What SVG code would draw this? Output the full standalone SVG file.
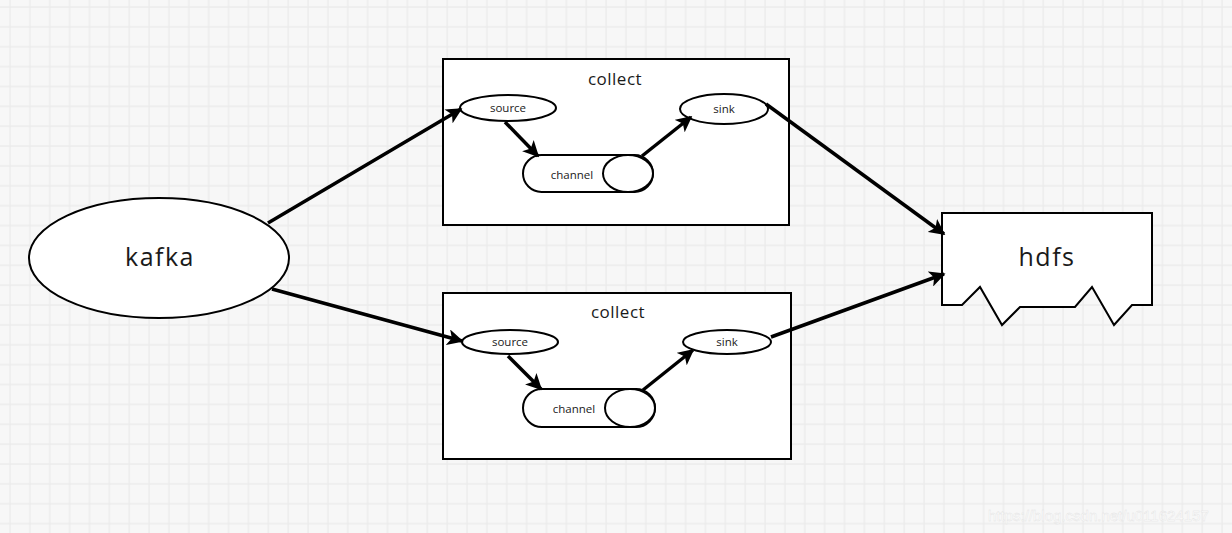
<svg xmlns="http://www.w3.org/2000/svg" width="1232" height="533" viewBox="0 0 1232 533">
<defs>
<pattern id="grid" patternUnits="userSpaceOnUse" width="19.87" height="19.87">
<rect width="19.87" height="19.87" fill="#f7f7f7"/>
<line x1="10" y1="0" x2="10" y2="19.87" stroke="#ebebeb" stroke-width="1.3"/>
<line x1="0" y1="7" x2="19.87" y2="7" stroke="#ebebeb" stroke-width="1.3"/>
</pattern>
<marker id="ah" viewBox="0 0 10 10" refX="9" refY="5" markerWidth="4.6" markerHeight="4.6" orient="auto" markerUnits="strokeWidth">
<path d="M0,0 L10,5 L0,10 L2.5,5 Z" fill="#000"/>
</marker>
<style>
.sh{fill:#fff;stroke:#000;stroke-width:2}
.con{fill:none;stroke:#000;stroke-width:3.5;marker-end:url(#ah)}
.t{font-family:"Open Sans",Lato,sans-serif;fill:#1a1a1a;text-anchor:middle;dominant-baseline:central}
.big{font-size:25px;letter-spacing:1.5px}
.mid{font-size:17px;letter-spacing:0.5px}
.sm{font-size:11.5px}
</style>
</defs>
<rect width="1232" height="533" fill="url(#grid)"/>

<g id="collect1">
<rect class="sh" x="443" y="59" width="346" height="166"/>
<text class="t mid" x="615" y="78">collect</text>
</g>
<g id="collect2">
<rect class="sh" x="443" y="293" width="348" height="166"/>
<text class="t mid" x="618" y="311">collect</text>
</g>

<g id="kafka">
<ellipse class="sh" cx="159" cy="258" rx="130" ry="60"/>
<text class="t big" x="160" y="256">kafka</text>
</g>

<g id="hdfs">
<path class="sh" d="M942,213 L1152,213 L1152,305 L1132,305 L1114,325 L1092,287 L1075,307 L1020,307 L1002,325 L980,287 L962,305 L942,305 Z"/>
<text class="t big" x="1047" y="256">hdfs</text>
</g>

<g id="source1">
<ellipse class="sh" cx="508" cy="108" rx="48" ry="13"/>
<text class="t sm" x="508" y="107">source</text>
</g>
<g id="channel1">
<rect class="sh" x="523" y="155" width="130" height="37" rx="18.5"/>
<ellipse class="sh" cx="628" cy="173.5" rx="25" ry="18.5"/>
<text class="t sm" x="572" y="174">channel</text>
</g>
<g id="sink1">
<ellipse class="sh" cx="724" cy="109" rx="44" ry="15"/>
<text class="t sm" x="724" y="108">sink</text>
</g>

<g id="source2">
<ellipse class="sh" cx="510" cy="342" rx="48" ry="12"/>
<text class="t sm" x="510" y="341">source</text>
</g>
<g id="channel2">
<rect class="sh" x="523" y="389" width="132" height="38" rx="19"/>
<ellipse class="sh" cx="630" cy="408" rx="25" ry="19"/>
<text class="t sm" x="574" y="408">channel</text>
</g>
<g id="sink2">
<ellipse class="sh" cx="727" cy="342" rx="44" ry="12"/>
<text class="t sm" x="727" y="341">sink</text>
</g>

<g id="connectors">
<line class="con" x1="268" y1="223" x2="461" y2="109"/>
<line class="con" x1="272" y1="289" x2="462" y2="341"/>
<line class="con" x1="766" y1="104" x2="944" y2="234"/>
<line class="con" x1="771" y1="337" x2="944" y2="274"/>
<line class="con" x1="505" y1="122" x2="538" y2="156"/>
<line class="con" x1="642" y1="156" x2="691" y2="117"/>
<line class="con" x1="508" y1="356" x2="541" y2="389"/>
<line class="con" x1="643" y1="390" x2="693" y2="350"/>
</g>

<text x="988" y="521" font-family="Liberation Sans, Arial, sans-serif" font-size="15" fill="#ffffff" stroke="#e2e2e2" stroke-width="0.4">https://blog.csdn.net/u011624157</text>
</svg>
